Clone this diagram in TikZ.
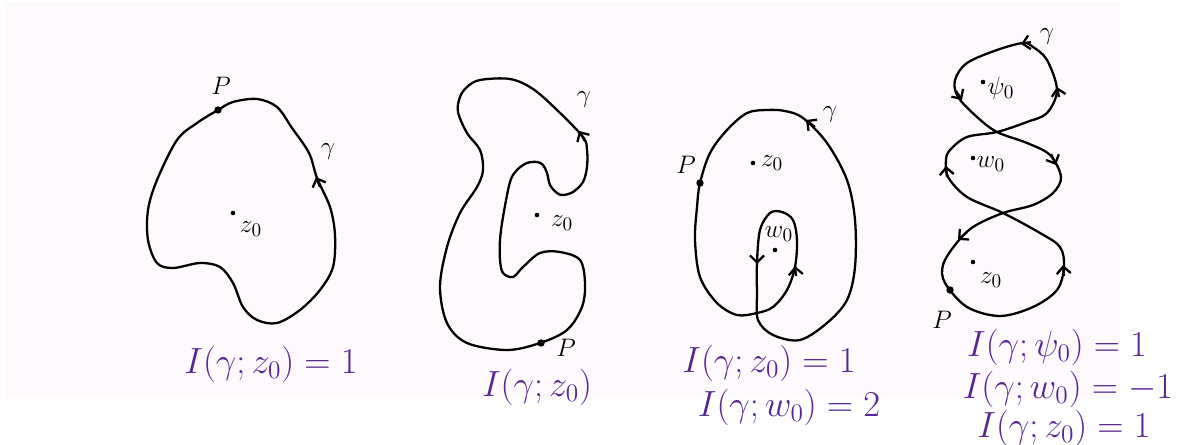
\documentclass[tikz,border=0pt]{standalone}
\usetikzlibrary{arrows.meta}
\definecolor{inkpurple}{RGB}{88,38,145}
\definecolor{paper}{RGB}{253,249,253}
\begin{document}
\begin{tikzpicture}[
  x=0.02cm, y=-0.02cm,
  every node/.style={font=\fontsize{15}{17}\selectfont, inner sep=1pt},
  curve/.style={draw, line width=1.3pt, line join=round},
  tip/.style={line width=1.3pt, -{Straight Barb[length=4pt,width=8pt]}},
  bigdot/.style={circle, fill, inner sep=0pt, minimum size=4.2pt},
  smalldot/.style={circle, fill, inner sep=0pt, minimum size=2.6pt},
  eq/.style={text=inkpurple, inner sep=0pt, font=\fontsize{21}{25}\selectfont}
]
\useasboundingbox (0,0) rectangle (1177,445);
\clip (0,0) rectangle (1177,445);
\fill[paper] (5,2) rectangle (1120,399);

\draw[curve] plot[smooth cycle, tension=0.55] coordinates {
  (218,110) (233,102) (257,99) (277,107) (292,128) (309,153) (317,178)
  (330,207) (335,235) (333,267) (320,290) (300,310) (277,323) (257,320)
  (243,307) (233,283) (220,267) (200,263) (173,268) (157,263) (148,240)
  (148,210) (157,180) (177,140) (197,123)};
\draw[tip] (320,187) -- (316,177);
\node[bigdot] (P1) at (218,110) {};
\node (P1l) at (221,86) {$P$};
\node (g1) at (328,152) {$\gamma$};
\node[smalldot] (z1) at (233,213) {};
\node (z1l) at (251,229) {$z_0$};
\node[eq] (eq1) at (271,364) {$I(\gamma;z_0)=1$};

\draw[curve] plot[smooth cycle, tension=0.55] coordinates {
  (480,80) (467,87) (460,97) (458,112) (467,133) (480,150) (483,170)
  (477,187) (460,213) (447,247) (440,287) (447,323) (467,343) (507,350)
  (540,343) (567,330) (582,307) (585,283) (580,260) (560,252) (540,253)
  (523,267) (513,277) (503,273) (500,260) (500,240) (503,217) (510,182)
  (517,170) (527,163) (537,162) (543,165) (547,173) (550,185) (557,193)
  (563,195) (573,192) (583,182) (587,167) (587,150) (583,137) (557,110)
  (533,89) (510,79)};
\draw[tip] (585,141) -- (579,131);
\node[bigdot] (P2) at (541,343) {};
\node (P2l) at (566,348) {$P$};
\node (g2) at (584,100) {$\gamma$};
\node[smalldot] (z2) at (537,215) {};
\node (z2l) at (562,223) {$z_0$};
\node[eq] (eq2) at (537,387) {$I(\gamma;z_0)$};

\draw[curve] plot[smooth cycle, tension=0.55] coordinates {
  (767,110) (747,113) (727,130) (710,153) (700,183) (697,207) (695,240)
  (700,277) (717,303) (737,315) (757,313) (773,307) (787,290) (795,267)
  (797,240) (793,220) (782,212) (770,213) (760,230) (757,263) (757,293)
  (758,320) (773,335) (800,340) (827,323) (847,300) (855,267) (855,220)
  (847,180) (827,143) (803,118) (785,111)};
\draw[tip] (815,127) -- (806,120);
\draw[tip] (757,254) -- (757,264);
\draw[tip] (796,276) -- (795,266);
\node[bigdot] (P3) at (700,183) {};
\node (P3l) at (686,165) {$P$};
\node (g3) at (830,115) {$\gamma$};
\node[smalldot] (z3) at (753,163) {};
\node (z3l) at (772,163) {$z_0$};
\node[smalldot] (w3) at (775,250) {};
\node (w3l) at (779,234) {$w_0$};
\node[eq] (eq3a) at (769,363) {$I(\gamma;z_0)=1$};
\node[eq] (eq3b) at (789,407) {$I(\gamma;w_0)=2$};

\draw[curve] plot[smooth cycle, tension=0.55] coordinates {
  (1023,43) (997,50) (967,63) (955,80) (958,97) (977,117) (997,132)
  (1027,143) (1050,155) (1061,177) (1053,193) (1033,205) (1003,213)
  (973,227) (955,245) (943,265) (945,283) (967,307) (1000,316) (1033,307)
  (1057,290) (1064,267) (1060,247) (1040,233) (1003,213) (967,197)
  (948,177) (946,160) (950,150) (967,137) (997,132) (1027,122) (1047,113)
  (1057,90) (1047,60) (1033,47)};
\draw[tip] (1031,42) -- (1021,44);
\draw[tip] (1059,97) -- (1057,87);
\draw[tip] (956,91) -- (962,100);
\draw[tip] (1051,154) -- (1056,165);
\draw[tip] (947,177) -- (946,166);
\draw[tip] (967,232) -- (958,240);
\draw[tip] (1064,276) -- (1063,265);
\node[bigdot] (P4) at (950,290) {};
\node (P4l) at (942,320) {$P$};
\node (g4) at (1047,37) {$\gamma$};
\node[smalldot] (y4) at (983,82) {};
\node (y4l) at (1001,88) {$\psi_0$};
\node[smalldot] (w4) at (973,158) {};
\node (w4l) at (991,164) {$w_0$};
\node[smalldot] (z4) at (973,262) {};
\node (z4l) at (991,280) {$z_0$};
\node[eq] (eq4a) at (1057,347) {$I(\gamma;\psi_0)=1$};
\node[eq] (eq4b) at (1068,389) {$I(\gamma;w_0)=-1$};
\node[eq] (eq4c) at (1064,428) {$I(\gamma;z_0)=1$};
\end{tikzpicture}
\end{document}
